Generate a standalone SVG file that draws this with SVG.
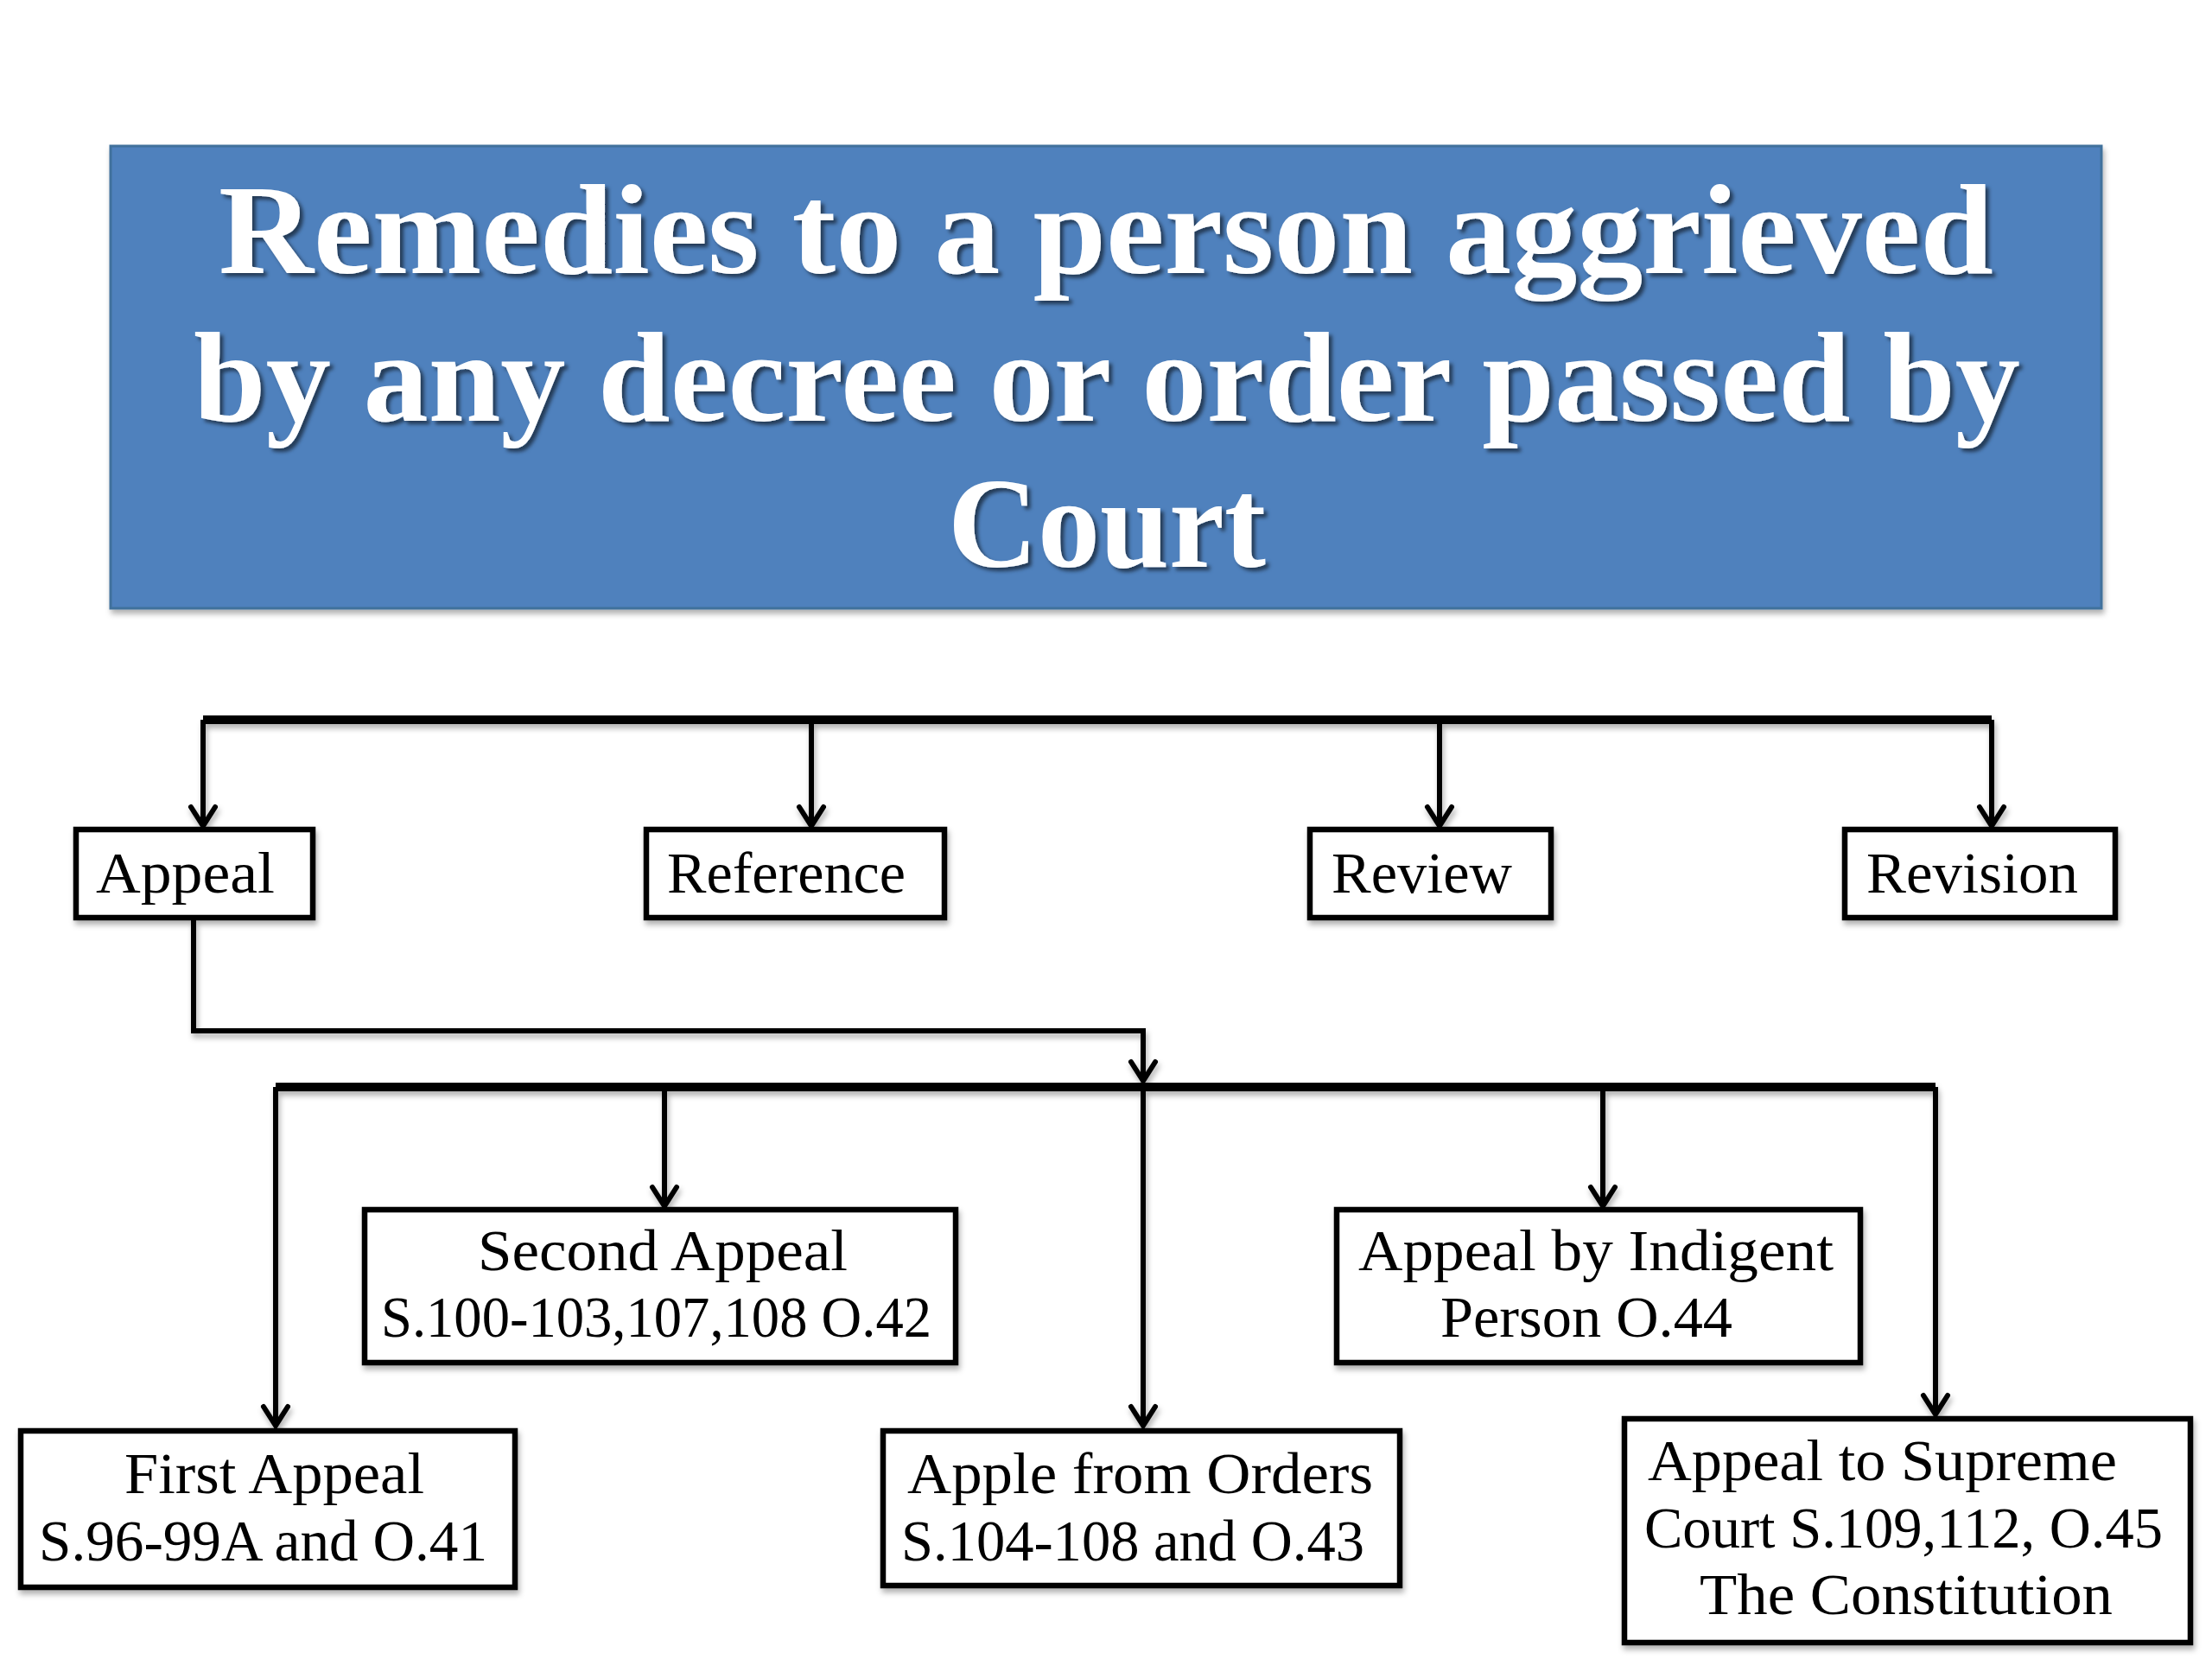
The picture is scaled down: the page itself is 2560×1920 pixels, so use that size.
<svg xmlns="http://www.w3.org/2000/svg" width="2560" height="1920" viewBox="0 0 2560 1920">
<style>
.box{fill:#ffffff;stroke:#000000;stroke-width:6.5}
.lbl{font-family:"Liberation Serif","Times New Roman",serif;font-size:68px;fill:#000000}
.ttl{font-family:"Liberation Serif","Times New Roman",serif;font-size:148px;font-weight:bold;fill:#ffffff}
.bar{stroke:#000000;stroke-width:10;fill:none}
.ln{stroke:#000000;stroke-width:6;fill:none}
.arr{marker-end:url(#arrow)}
</style>
<defs>
<marker id="arrow" markerUnits="userSpaceOnUse" orient="auto" refX="0" refY="0" markerWidth="40" markerHeight="40" overflow="visible">
<path d="M-22,-14 L0,0 L-22,14" fill="none" stroke="#000000" stroke-width="6" stroke-linecap="round" stroke-linejoin="miter"/>
</marker>
<filter id="sh" x="-5%" y="-5%" width="110%" height="120%">
<feDropShadow dx="2" dy="5" stdDeviation="3" flood-color="#000000" flood-opacity="0.3"/>
</filter>
<filter id="tsh" x="-5%" y="-10%" width="110%" height="130%">
<feDropShadow dx="4" dy="4" stdDeviation="2" flood-color="#000000" flood-opacity="0.55"/>
</filter>
</defs>
<rect width="2560" height="1920" fill="#ffffff"/>

<g id="title" filter="url(#sh)">
<rect x="128" y="169" width="2304" height="535" fill="#4F81BD" stroke="#41719C" stroke-width="3"/>
<g filter="url(#tsh)">
<text class="ttl" x="253" y="316" textLength="2054" lengthAdjust="spacingAndGlyphs">Remedies to a person aggrieved</text>
<text class="ttl" x="224" y="487" textLength="2114" lengthAdjust="spacingAndGlyphs">by any decree or order passed by</text>
<text class="ttl" x="1097" y="656" textLength="368" lengthAdjust="spacingAndGlyphs">Court</text>
</g>
</g>

<g id="connectors" filter="url(#sh)">
<line class="bar" x1="235" y1="833" x2="2305" y2="833"/>
<line class="ln arr" x1="235" y1="833" x2="235" y2="956"/>
<line class="ln arr" x1="939" y1="833" x2="939" y2="956"/>
<line class="ln arr" x1="1666" y1="833" x2="1666" y2="956"/>
<line class="ln arr" x1="2305" y1="833" x2="2305" y2="956"/>
<polyline class="ln arr" points="224,1065 224,1193 1323,1193 1323,1251"/>
<line class="bar" x1="319" y1="1258" x2="2240" y2="1258"/>
<line class="ln arr" x1="319" y1="1258" x2="319" y2="1650"/>
<line class="ln arr" x1="769" y1="1258" x2="769" y2="1396"/>
<line class="ln arr" x1="1323" y1="1258" x2="1323" y2="1650"/>
<line class="ln arr" x1="1855" y1="1258" x2="1855" y2="1396"/>
<line class="ln arr" x1="2240" y1="1258" x2="2240" y2="1637"/>
</g>

<g id="appeal" filter="url(#sh)">
<rect class="box" x="88" y="960" width="274" height="102"/>
<text class="lbl" x="111" y="1033" textLength="207" lengthAdjust="spacingAndGlyphs">Appeal</text>
</g>
<g id="reference" filter="url(#sh)">
<rect class="box" x="748" y="960" width="345" height="102"/>
<text class="lbl" x="772" y="1033" textLength="276" lengthAdjust="spacingAndGlyphs">Reference</text>
</g>
<g id="review" filter="url(#sh)">
<rect class="box" x="1516" y="960" width="279" height="102"/>
<text class="lbl" x="1541" y="1033" textLength="209" lengthAdjust="spacingAndGlyphs">Review</text>
</g>
<g id="revision" filter="url(#sh)">
<rect class="box" x="2135" y="960" width="313" height="102"/>
<text class="lbl" x="2160" y="1033" textLength="245" lengthAdjust="spacingAndGlyphs">Revision</text>
</g>

<g id="second-appeal" filter="url(#sh)">
<rect class="box" x="422" y="1400" width="684" height="177"/>
<text class="lbl" x="553" y="1470" textLength="428" lengthAdjust="spacingAndGlyphs">Second Appeal</text>
<text class="lbl" x="441" y="1547" textLength="637" lengthAdjust="spacingAndGlyphs">S.100-103,107,108 O.42</text>
</g>
<g id="indigent" filter="url(#sh)">
<rect class="box" x="1547" y="1400" width="606" height="177"/>
<text class="lbl" x="1572" y="1470" textLength="550" lengthAdjust="spacingAndGlyphs">Appeal by Indigent</text>
<text class="lbl" x="1667" y="1547" textLength="338" lengthAdjust="spacingAndGlyphs">Person O.44</text>
</g>
<g id="first-appeal" filter="url(#sh)">
<rect class="box" x="24" y="1656" width="572" height="181"/>
<text class="lbl" x="144" y="1728" textLength="347" lengthAdjust="spacingAndGlyphs">First Appeal</text>
<text class="lbl" x="45" y="1806" textLength="519" lengthAdjust="spacingAndGlyphs">S.96-99A and O.41</text>
</g>
<g id="orders" filter="url(#sh)">
<rect class="box" x="1022" y="1656" width="598" height="179"/>
<text class="lbl" x="1050" y="1728" textLength="539" lengthAdjust="spacingAndGlyphs">Apple from Orders</text>
<text class="lbl" x="1043" y="1806" textLength="536" lengthAdjust="spacingAndGlyphs">S.104-108 and O.43</text>
</g>
<g id="supreme" filter="url(#sh)">
<rect class="box" x="1880" y="1642" width="655" height="259"/>
<text class="lbl" x="1907" y="1713" textLength="543" lengthAdjust="spacingAndGlyphs">Appeal to Supreme</text>
<text class="lbl" x="1903" y="1791" textLength="600" lengthAdjust="spacingAndGlyphs">Court S.109,112, O.45</text>
<text class="lbl" x="1967" y="1868" textLength="478" lengthAdjust="spacingAndGlyphs">The Constitution</text>
</g>
</svg>
